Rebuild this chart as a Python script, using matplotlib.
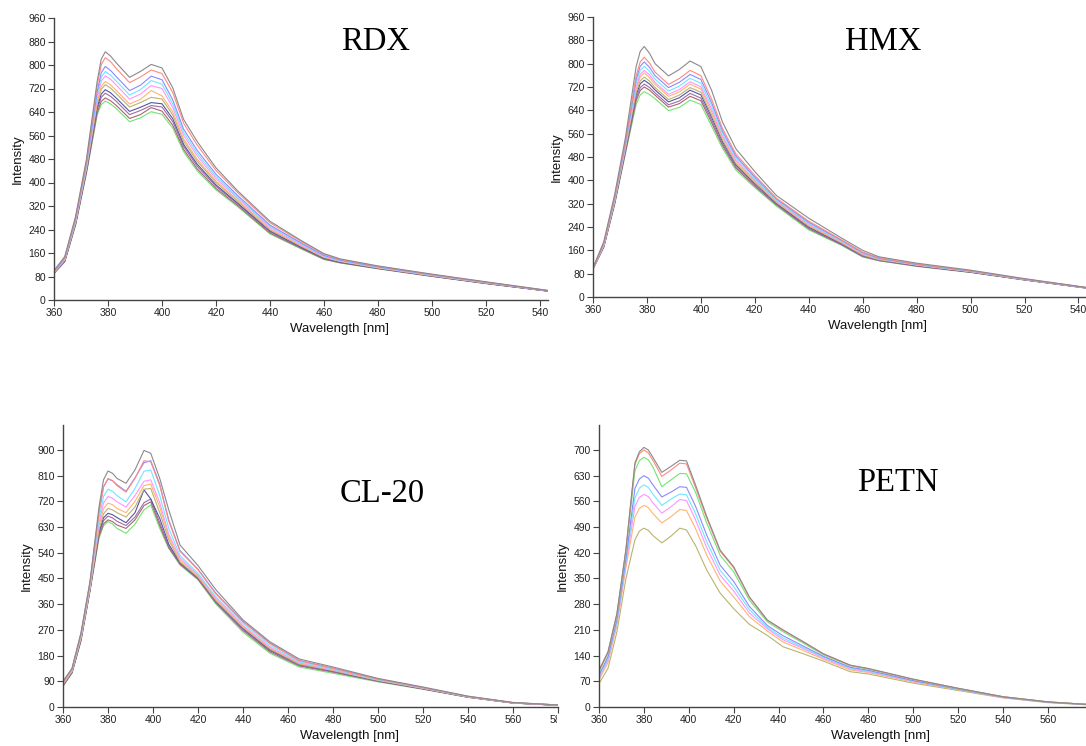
import matplotlib
matplotlib.use("Agg")
import matplotlib.pyplot as plt
from matplotlib.transforms import Bbox

# ---------------- data ----------------
# RDX / HMX: wavelength knots [nm]
top_wl = [360, 364, 368, 372, 376, 377.5, 379, 381, 383, 388, 392, 396, 400, 404, 408, 413,
          420, 428, 440, 452, 460, 466, 480, 500, 520, 545]

rdx_gray = [100, 148, 285, 478, 745, 820, 845, 830, 808, 758, 778, 802, 790, 722, 615, 540, 450, 372, 268, 200, 158, 140, 116, 88, 62, 30]
rdx_red = [99, 146, 281, 472, 731, 801, 825, 811, 789, 740, 759, 783, 771, 706, 602, 528, 441, 366, 263, 197, 156, 138, 115, 87, 61, 30]
rdx_blue = [97, 143, 276, 464, 710, 774, 795, 781, 761, 713, 731, 762, 750, 681, 582, 510, 428, 356, 255, 192, 152, 136, 113, 86, 60, 29]
rdx_cyan = [96, 141, 273, 459, 699, 758, 778, 765, 746, 698, 716, 747, 735, 667, 571, 500, 420, 350, 251, 189, 150, 134, 112, 85, 60, 29]
rdx_magenta = [95, 139, 270, 454, 689, 745, 763, 751, 732, 684, 701, 730, 720, 655, 561, 491, 413, 346, 247, 186, 148, 133, 111, 84, 59, 29]
rdx_orange = [94, 137, 267, 449, 676, 727, 744, 732, 714, 667, 683, 713, 695, 640, 549, 480, 405, 340, 242, 183, 146, 132, 110, 83, 58, 29]
rdx_olive = [93, 136, 265, 446, 668, 717, 733, 721, 703, 657, 672, 690, 684, 630, 541, 473, 400, 336, 239, 181, 145, 131, 109, 83, 58, 29]
rdx_navy = [92, 134, 262, 441, 656, 701, 716, 705, 688, 642, 656, 672, 668, 617, 530, 463, 392, 330, 235, 178, 143, 129, 108, 82, 57, 28]
rdx_purple = [92, 133, 260, 438, 648, 690, 704, 693, 677, 631, 645, 662, 657, 607, 523, 456, 387, 327, 232, 176, 141, 128, 108, 81, 57, 28]
rdx_wine = [91, 131, 257, 433, 638, 676, 688, 678, 663, 618, 631, 655, 643, 595, 513, 447, 380, 322, 228, 174, 139, 127, 107, 81, 56, 28]
rdx_green = [90, 130, 255, 430, 630, 665, 677, 667, 652, 607, 620, 641, 632, 585, 505, 440, 375, 318, 225, 172, 138, 126, 106, 80, 56, 28]

hmx_gray = [100, 190, 350, 545, 790, 842, 859, 835, 800, 758, 780, 809, 790, 708, 600, 508, 430, 348, 270, 203, 160, 138, 116, 92, 63, 30]
hmx_red = [99, 185, 342, 532, 759, 806, 822, 802, 771, 729, 749, 777, 759, 678, 578, 490, 417, 339, 260, 197, 154, 135, 113, 90, 62, 30]
hmx_blue = [99, 183, 338, 526, 746, 791, 806, 787, 759, 718, 736, 763, 746, 666, 569, 483, 411, 336, 256, 195, 152, 133, 112, 89, 61, 29]
hmx_cyan = [98, 181, 335, 521, 733, 777, 791, 773, 747, 706, 723, 750, 733, 654, 560, 476, 406, 332, 252, 192, 150, 132, 111, 88, 61, 29]
hmx_magenta = [98, 179, 331, 516, 721, 763, 777, 761, 736, 695, 711, 738, 721, 643, 552, 469, 401, 329, 249, 190, 148, 131, 110, 88, 60, 29]
hmx_orange = [98, 178, 329, 513, 713, 754, 768, 752, 729, 688, 703, 730, 713, 635, 547, 465, 398, 327, 246, 188, 146, 130, 110, 87, 60, 29]
hmx_olive = [97, 176, 326, 508, 702, 741, 754, 740, 718, 677, 692, 718, 702, 624, 539, 458, 393, 324, 243, 186, 144, 128, 109, 87, 60, 29]
hmx_navy = [97, 175, 324, 504, 693, 731, 743, 730, 710, 669, 683, 709, 693, 616, 533, 453, 389, 321, 240, 184, 143, 128, 108, 86, 59, 29]
hmx_purple = [97, 173, 321, 499, 682, 718, 730, 718, 700, 659, 672, 698, 682, 606, 525, 447, 384, 318, 237, 182, 141, 126, 107, 85, 59, 28]
hmx_wine = [96, 172, 319, 496, 673, 708, 720, 709, 692, 651, 663, 688, 673, 597, 519, 442, 380, 316, 234, 180, 139, 125, 106, 85, 59, 28]
hmx_green = [96, 170, 315, 490, 660, 693, 704, 694, 680, 639, 650, 675, 660, 585, 510, 435, 375, 312, 230, 178, 137, 124, 105, 84, 58, 28]

# CL-20
cl_wl = [360, 364, 368, 372, 376, 378, 380, 382, 384, 388, 392, 396, 399, 403, 407, 412,
         420, 428, 440, 452, 465, 480, 500, 520, 540, 560, 580]
cl_gray = [90, 135, 260, 440, 700, 795, 826, 818, 800, 783, 830, 898, 888, 800, 690, 567, 495, 410, 305, 228, 168, 140, 100, 70, 38, 16, 7]
cl_red = [86, 132, 255, 432, 680, 770, 800, 792, 775, 752, 800, 862, 858, 775, 650, 545, 480, 395, 298, 222, 162, 135, 98, 68, 37, 15, 7]
cl_blue = [88, 134, 258, 436, 685, 770, 798, 792, 778, 755, 802, 855, 862, 780, 655, 548, 482, 398, 300, 224, 163, 136, 98, 68, 37, 15, 7]
cl_cyan = [84, 130, 250, 425, 660, 737, 762, 755, 740, 718, 765, 825, 830, 740, 625, 530, 468, 385, 292, 216, 158, 132, 96, 67, 36, 15, 7]
cl_magenta = [82, 128, 247, 420, 645, 714, 737, 731, 718, 700, 740, 790, 795, 715, 605, 522, 462, 380, 285, 210, 155, 130, 95, 66, 36, 15, 7]
cl_orange = [80, 126, 244, 418, 632, 694, 714, 708, 695, 680, 720, 775, 780, 700, 595, 515, 458, 376, 282, 207, 153, 129, 94, 66, 36, 15, 7]
cl_olive = [79, 124, 242, 415, 620, 676, 695, 690, 680, 665, 700, 762, 765, 680, 585, 508, 454, 372, 278, 203, 150, 127, 93, 65, 35, 14, 6]
cl_navy = [78, 122, 240, 412, 612, 662, 678, 673, 663, 645, 680, 760, 728, 660, 570, 505, 452, 370, 275, 200, 149, 126, 92, 64, 35, 14, 6]
cl_purple = [76, 121, 236, 410, 605, 652, 668, 662, 650, 635, 665, 715, 728, 645, 562, 502, 450, 367, 272, 197, 146, 124, 91, 64, 35, 14, 6]
cl_wine = [74, 120, 233, 408, 598, 641, 655, 649, 637, 625, 655, 705, 718, 635, 558, 500, 448, 364, 268, 193, 144, 122, 90, 63, 34, 14, 6]
cl_green = [72, 118, 230, 405, 590, 634, 649, 641, 625, 608, 640, 690, 707, 625, 555, 497, 445, 360, 262, 188, 140, 118, 88, 62, 34, 14, 6]

# PETN
petn_wl = [360, 364, 368, 372, 376, 378, 380, 382, 384, 388, 392, 396, 399, 403, 408, 414,
           420, 427, 435, 442, 451, 460, 472, 480, 500, 520, 540, 560, 580]
petn_gray = [100, 150, 255, 430, 665, 695, 707, 700, 680, 639, 655, 672, 670, 605, 519, 427, 382, 300, 237, 210, 178, 145, 114, 105, 76, 51, 28, 14, 6]
petn_red = [99, 149, 254, 428, 660, 690, 700, 692, 672, 628, 645, 664, 662, 598, 514, 424, 379, 298, 236, 209, 177, 144, 113, 104, 75, 51, 28, 14, 6]
petn_green = [96, 146, 250, 422, 643, 671, 680, 673, 654, 600, 618, 636, 635, 585, 501, 413, 368, 291, 232, 205, 174, 142, 112, 103, 75, 50, 28, 14, 6]
petn_blue = [87, 137, 240, 405, 595, 621, 630, 623, 605, 572, 585, 600, 598, 547, 468, 386, 342, 274, 222, 194, 166, 138, 108, 100, 72, 49, 27, 13, 6]
petn_cyan = [83, 132, 234, 397, 569, 596, 605, 598, 580, 549, 566, 580, 578, 527, 450, 372, 328, 265, 217, 188, 162, 136, 106, 98, 71, 48, 27, 13, 6]
petn_magenta = [79, 127, 229, 389, 546, 571, 579, 573, 556, 528, 545, 565, 562, 510, 434, 359, 316, 256, 213, 183, 159, 133, 104, 96, 70, 48, 26, 13, 6]
petn_orange = [74, 121, 223, 380, 517, 541, 549, 543, 527, 501, 518, 538, 535, 486, 414, 343, 300, 246, 207, 177, 154, 130, 101, 94, 68, 47, 26, 13, 6]
petn_olive = [64, 105, 205, 350, 455, 479, 487, 481, 467, 447, 465, 487, 482, 440, 373, 310, 268, 225, 195, 164, 145, 125, 96, 90, 65, 45, 25, 12, 5]

# ---------------- styling ----------------
C = {
    'gray': '#8a8a8a', 'red': '#ff8a80', 'blue': '#8a8aff', 'cyan': '#6fe6ff',
    'magenta': '#ff94ff', 'orange': '#ffb472', 'olive': '#bcb272', 'navy': '#55559e',
    'purple': '#9c6caa', 'wine': '#aa6474', 'green': '#72e472',
}
order11 = ['gray', 'red', 'blue', 'cyan', 'magenta', 'orange', 'olive', 'navy', 'purple', 'wine', 'green']
order8 = ['gray', 'red', 'green', 'blue', 'cyan', 'magenta', 'orange', 'olive']

plt.rcParams['font.family'] = ['Liberation Sans', 'DejaVu Sans']

W, H = 1086, 746
fig = plt.figure(figsize=(W / 100, H / 100), dpi=100)


def px_axes(x0, x1, ytop, ybot):
    return fig.add_axes([x0 / W, (H - ybot) / H, (x1 - x0) / W, (ybot - ytop) / H])


def style(ax, xlim, ylim, yticks, xticks):
    ax.set_xlim(*xlim)
    ax.set_ylim(*ylim)
    ax.set_xticks(xticks)
    ax.set_yticks(yticks)
    for s in ['top', 'right']:
        ax.spines[s].set_visible(False)
    for s in ['left', 'bottom']:
        ax.spines[s].set_color('#444444')
        ax.spines[s].set_linewidth(1.0)
    ax.tick_params(direction='out', length=4, width=0.8, color='#444444',
                   labelsize=7.5, labelcolor='#222222', pad=2)
    ax.set_ylabel('Intensity', fontsize=9.5, color='#111111')
    ax.yaxis.set_label_coords(-0.062, 0.5)
    ax.set_xlabel('Wavelength [nm]', fontsize=9.5, color='#111111', va='center')
    ax.xaxis.set_label_coords(0.578, -0.103)


panels = [
    # axes pixels, xlim, ylim, yticks, xticks, wl, series, names, title, title pos
    ((54, 548, 18, 300), (360, 543), (0, 960), range(0, 961, 80), range(360, 541, 20),
     top_wl, [rdx_gray, rdx_red, rdx_blue, rdx_cyan, rdx_magenta, rdx_orange, rdx_olive,
              rdx_navy, rdx_purple, rdx_wine, rdx_green], order11, 'RDX', (376, 42)),
    ((593, 1086, 17, 297), (360, 542.8), (0, 960), range(0, 961, 80), range(360, 541, 20),
     top_wl, [hmx_gray, hmx_red, hmx_blue, hmx_cyan, hmx_magenta, hmx_orange, hmx_olive,
              hmx_navy, hmx_purple, hmx_wine, hmx_green], order11, 'HMX', (883, 42)),
    ((63, 558, 425, 707), (360, 580), (0, 987), range(0, 901, 90), range(360, 581, 20),
     cl_wl, [cl_gray, cl_red, cl_blue, cl_cyan, cl_magenta, cl_orange, cl_olive,
             cl_navy, cl_purple, cl_wine, cl_green], order11, 'CL-20', (382, 494)),
    ((599, 1086, 425, 707), (360, 577), (0, 768), range(0, 701, 70), range(360, 561, 20),
     petn_wl, [petn_gray, petn_red, petn_green, petn_blue, petn_cyan, petn_magenta,
               petn_orange, petn_olive], order8, 'PETN', (898, 483)),
]

for (x0, x1, yt, yb), xlim, ylim, yt_, xt_, wl, series, names, title, tpos in panels:
    ax = px_axes(x0, x1, yt, yb)
    for vals, name in reversed(list(zip(series, names))):
        ax.plot(wl, vals, color=C[name], lw=0.8)
    style(ax, xlim, ylim, list(yt_), list(xt_))
    fig.text(tpos[0] / W, 1 - tpos[1] / H, title, family='Liberation Serif',
             fontsize=23.5, ha='center', va='center', color='black')
    if title == 'CL-20':
        # the source picture is cropped here, cutting the last tick label
        clip = Bbox.from_extents(0, 0, 557, H)
        for lbl in ax.get_xticklabels():
            lbl.set_clip_box(clip)
            lbl.set_clip_on(True)

fig.savefig('out.png', dpi=100, facecolor='white')
